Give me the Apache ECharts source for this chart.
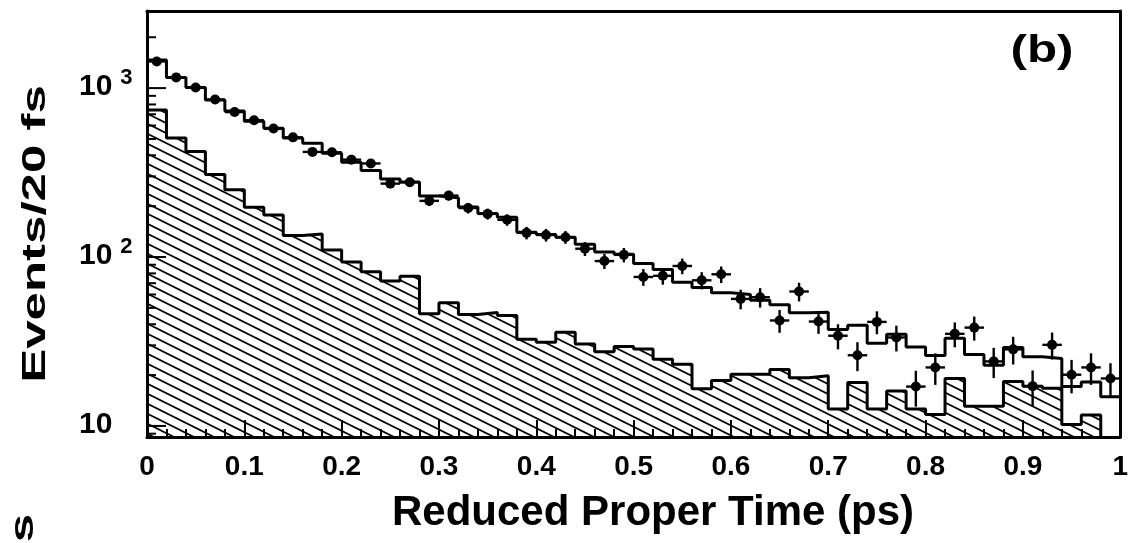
<!DOCTYPE html>
<html><head><meta charset="utf-8">
<script src="https://cdn.jsdelivr.net/npm/echarts@6/dist/echarts.min.js"></script>
<style>html,body{margin:0;padding:0;background:#fff;}#c{width:1131px;height:543px;}</style>
</head><body><div id="c"></div>
<script>
// ---- data ----
const binWidth = 0.02;           // 20 fs bins, 0 .. 1 ps
const totalFit = [1466, 1157, 1009, 851, 732, 636, 578, 506, 471, 411,
  364, 325, 290, 278, 230, 224, 198, 181, 172, 140,
  136, 131, 119, 107, 104, 91.4, 84.4, 70.9, 65.9, 61.4,
  60.0, 55.5, 52.1, 46.7, 47.1, 37.2, 39.4, 30.9, 34.9, 29.3,
  26.1, 33.0, 26.5, 22.9, 29.1, 25.7, 25.1, 17.1, 18.2, 14.9];
const background = [742, 507, 421, 308, 250, 197, 177, 134, 137, 110,
  93.4, 81.8, 72.1, 76.9, 46.1, 53.6, 45.7, 46.9, 45.1, 32.6,
  31.3, 35.8, 30.6, 27.5, 29.5, 28.5, 24.8, 23.2, 16.6, 18.6,
  20.2, 20.2, 21.6, 19.3, 19.8, 12.6, 18.1, 12.6, 16.1, 12.6,
  11.7, 19.1, 13.1, 13.1, 18.3, 17.2, 16.7, 10.2, 11.6, null];
const dataCounts = [1438, 1157, 1009, 856, 721, 645, 576, 511, 419, 417,
  377, 358, 272, 277, 215, 231, 195, 180, 166, 139,
  135, 131, 112, 94.6, 103, 76.2, 77.4, 88.5, 72.8, 79.0,
  56.5, 57.8, 42.1, 62.5, 41.5, 34.2, 26.2, 41.3, 33.4, 17.1,
  22.2, 35.1, 38.2, 24.1, 28.4, 17.2, 30.2, 20.1, 22.2, 19.1];
const dataErrors = [38, 34, 32, 29, 27, 25, 24, 23, 20, 20,
  19, 19, 16.5, 16.6, 14.7, 15.2, 14, 13.4, 12.9, 11.8,
  11.6, 11.4, 10.6, 9.7, 10.1, 8.7, 8.8, 9.4, 8.5, 8.9,
  7.5, 7.6, 6.5, 7.9, 6.4, 5.8, 5.1, 6.4, 5.8, 4.1,
  4.7, 5.9, 6.2, 4.9, 5.3, 4.1, 5.5, 4.5, 4.7, 4.4];
const yMajorTicks = [10, 100, 1000];
const yMinorTicks = [9, 20, 30, 40, 50, 60, 70, 80, 90, 200, 300, 400, 500, 600, 700, 800, 900, 2000];
const yMin = 8.6, yMax = 2860;
const xMin = 0, xMax = 1;
const xTitle = 'Reduced Proper Time (ps)';
const yTitle = 'Events/20 fs';
const panelTag = '(b)';

// ---- build ----
const FONT = '"Liberation Sans", Arial, Helvetica, sans-serif';
const nb = totalFit.length;
const edge = i => +(i * binWidth).toFixed(4);

const totalLine = [];
for (let i = 0; i < nb; i++) totalLine.push([edge(i), totalFit[i]]);
totalLine.push([edge(nb), totalFit[nb - 1]]);

const bgLine = [];
let lastBg = 0;
for (let i = 0; i < nb; i++) { if (background[i] == null) break; bgLine.push([edge(i), background[i]]); lastBg = i; }
bgLine.push([edge(lastBg + 1), yMin]);

const points = dataCounts.map((v, i) => [edge(i) + binWidth / 2, v, dataErrors[i]]);
const tickData = yMajorTicks.map(v => [0, v, 1]).concat(yMinorTicks.map(v => [0, v, 0]));

// hatch pattern "\\\\"
const pc = document.createElement('canvas');
pc.width = 20; pc.height = 10;
const g = pc.getContext('2d');
g.strokeStyle = '#000'; g.lineWidth = 1.7;
for (const c of [-10, 0, 10]) { g.beginPath(); g.moveTo(-2, c - 1); g.lineTo(22, c + 11); g.stroke(); }

const chart = echarts.init(document.getElementById('c'), null, {renderer: 'canvas'});
const axisLineStyle = {color: '#000', width: 3};
chart.setOption({
  animation: false,
  backgroundColor: '#fff',
  grid: {left: 147, right: 4, top: 11, bottom: 106, containLabel: false},
  xAxis: [{
    type: 'value', min: xMin, max: xMax, interval: 0.1, z: 10,
    axisLine: {show: true, onZero: false, lineStyle: axisLineStyle},
    axisTick: {show: true, inside: true, length: 17, lineStyle: {color: '#000', width: 2}},
    minorTick: {show: true, splitNumber: 5, length: 8, lineStyle: {color: '#000', width: 2}},
    splitLine: {show: false},
    axisLabel: {margin: 16, fontSize: 28, fontWeight: 'bold', fontFamily: FONT, color: '#000',
      formatter: v => String(+v.toFixed(1))}
  }, {
    type: 'value', position: 'top', min: xMin, max: xMax, z: 10,
    axisLine: {show: true, onZero: false, lineStyle: axisLineStyle},
    axisTick: {show: false}, axisLabel: {show: false}, splitLine: {show: false}
  }],
  yAxis: [{
    type: 'log', min: yMin, max: yMax, z: 10, logBase: 10,
    axisLine: {show: true, onZero: false, lineStyle: axisLineStyle},
    axisTick: {show: false}, splitLine: {show: false}, minorTick: {show: false},
    axisLabel: {
      margin: 68, align: 'left', showMinLabel: false, showMaxLabel: false,
      formatter: v => {
        const l = Math.log10(v), r = Math.round(l);
        if (Math.abs(l - r) > 1e-6) return '';
        return r === 1 ? '{b|10}' : '{b|10}{s|' + r + '}';
      },
      rich: {
        b: {fontSize: 30, fontWeight: 'bold', fontFamily: FONT, color: '#000', verticalAlign: 'bottom', lineHeight: 28},
        s: {fontSize: 22, fontWeight: 'bold', fontFamily: FONT, color: '#000', verticalAlign: 'bottom', lineHeight: 20, padding: [0, 0, 13, 8]}
      }
    }
  }, {
    type: 'log', position: 'right', min: yMin, max: yMax, z: 10,
    axisLine: {show: true, onZero: false, lineStyle: axisLineStyle},
    axisTick: {show: false}, axisLabel: {show: false}, splitLine: {show: false}
  }],
  series: [{
    name: 'background', type: 'line', step: 'end', data: bgLine, symbol: 'none', z: 2,
    lineStyle: {color: '#000', width: 3},
    areaStyle: {origin: 'start', color: {image: pc, repeat: 'repeat'}, opacity: 1}
  }, {
    name: 'fit', type: 'line', step: 'end', data: totalLine, symbol: 'none', z: 3,
    lineStyle: {color: '#000', width: 3}
  }, {
    name: 'errors', type: 'custom', data: points, z: 4, encode: {x: 0, y: 1},
    renderItem: (params, api) => {
      const x = api.value(0), y = api.value(1), e = api.value(2);
      const pL = api.coord([x - binWidth / 2, y]), pR = api.coord([x + binWidth / 2, y]);
      const pT = api.coord([x, y + e]), pB = api.coord([x, y - e]);
      const st = {stroke: '#000', lineWidth: 2.4};
      return {type: 'group', children: [
        {type: 'line', shape: {x1: pL[0], y1: pL[1], x2: pR[0], y2: pR[1]}, style: st},
        {type: 'line', shape: {x1: pT[0], y1: pT[1], x2: pB[0], y2: pB[1]}, style: st}
      ]};
    }
  }, {
    name: 'data', type: 'scatter', data: points.map(p => [p[0], p[1]]), z: 5,
    symbol: 'circle', symbolSize: 10, itemStyle: {color: '#000', opacity: 1}
  }, {
    name: 'yticks', type: 'custom', data: tickData, z: 6, encode: {x: 0, y: 1}, silent: true,
    renderItem: (params, api) => {
      const p = api.coord([api.value(0), api.value(1)]);
      const len = api.value(2) ? 19 : 9;
      return {type: 'line', shape: {x1: p[0], y1: p[1], x2: p[0] + len, y2: p[1]}, style: {stroke: '#000', lineWidth: 2}};
    }
  }],
  graphic: [
    {type: 'text', x: 1042, y: 52, scaleX: 1.3, z: 20, style: {text: panelTag, fontSize: 38, fontWeight: 'bold', fontFamily: FONT, fill: '#000', align: 'center', verticalAlign: 'middle'}},
    {type: 'text', x: 653, y: 513, z: 20, style: {text: xTitle, fontSize: 42, fontWeight: 'bold', fontFamily: FONT, fill: '#000', align: 'center', verticalAlign: 'middle'}},
    {type: 'text', x: 36, y: 234, rotation: Math.PI / 2, scaleX: 1.5, z: 20,
      style: {text: yTitle, fontSize: 34, fontWeight: 'bold', fontFamily: FONT, fill: '#000', align: 'center', verticalAlign: 'middle'}},
    {type: 'text', x: 24, y: 528, rotation: Math.PI / 2, scaleX: 1.5, z: 20,
      style: {text: 's', fontSize: 34, fontWeight: 'bold', fontFamily: FONT, fill: '#000', align: 'center', verticalAlign: 'middle'}}
  ]
});
</script></body></html>
